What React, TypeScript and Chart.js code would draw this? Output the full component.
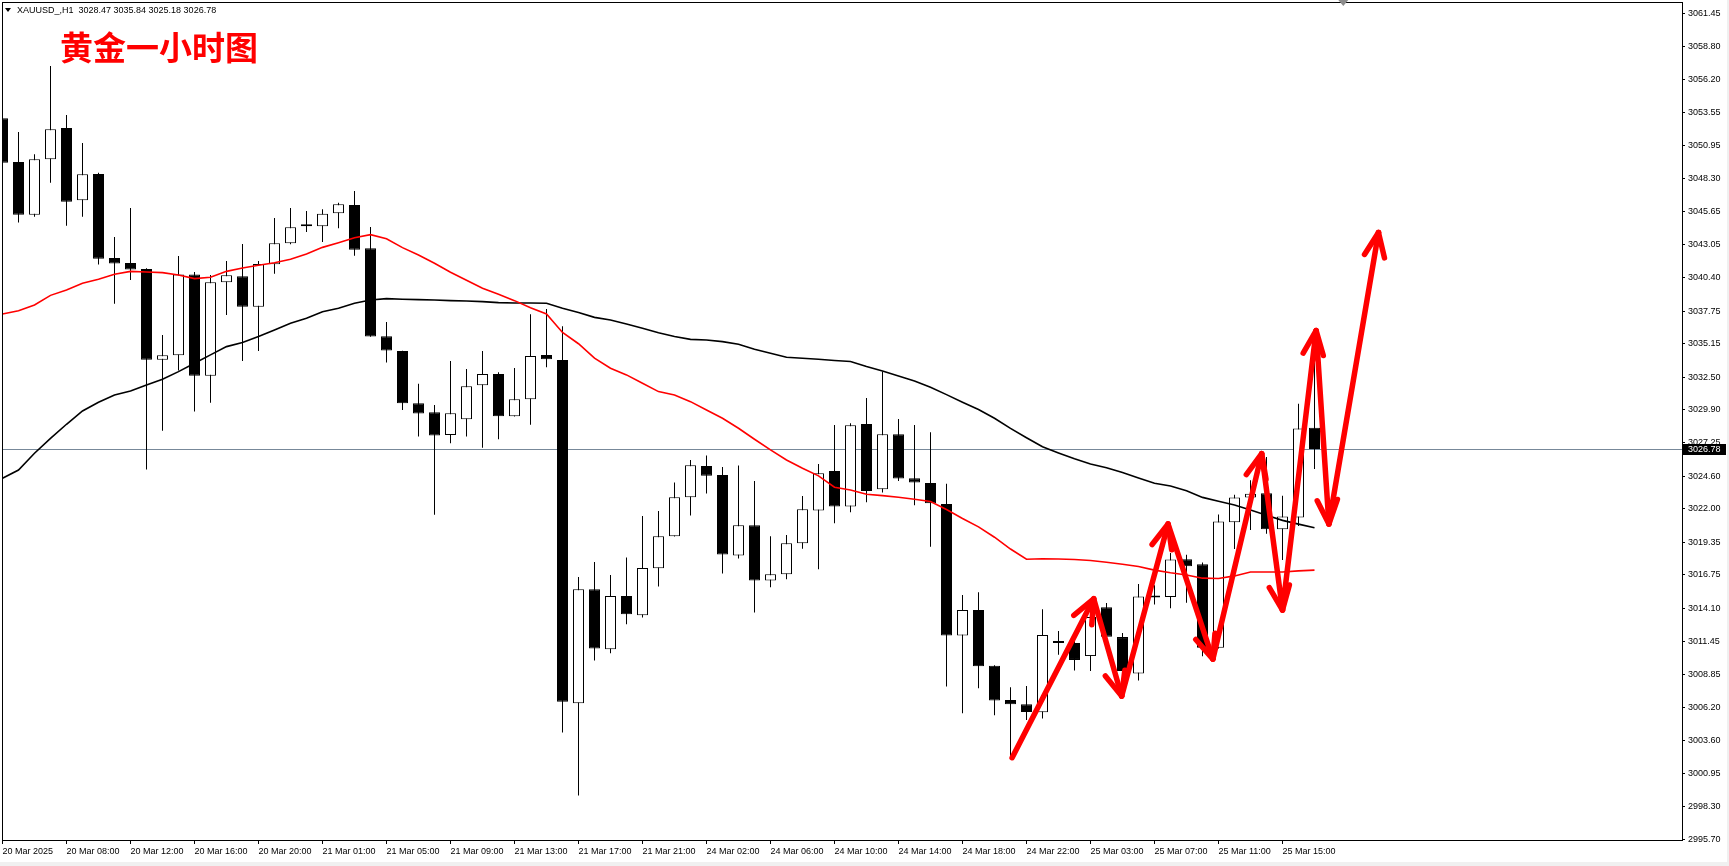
import React, { useEffect, useRef } from "react";
import { Chart, registerables } from "chart.js";

Chart.register(...registerables);

// ---------------- data ----------------
const SYMBOL = "XAUUSD_";
const TIMEFRAME = "H1";
const TITLE = "黄金一小时图";

const opens = [
  3053.09, 3049.62, 3045.42, 3049.83, 3052.32, 3046.57, 3048.66, 3041.98, 3041.58, 3041.10,
  3033.88, 3034.23, 3040.67, 3032.61, 3040.04, 3040.52, 3038.10, 3041.47, 3043.14, 3044.63,
  3044.50, 3045.53, 3046.19, 3042.75, 3035.74, 3034.58, 3030.41, 3029.69, 3027.89, 3029.14,
  3031.84, 3032.74, 3029.38, 3030.73, 3034.26, 3033.86, 3006.54, 3015.61, 3010.83, 3015.08,
  3013.54, 3017.28, 3019.83, 3022.93, 3025.42, 3024.71, 3018.29, 3020.70, 3016.30, 3016.80,
  3019.27, 3021.87, 3025.03, 3022.19, 3028.77, 3023.57, 3027.94, 3024.44, 3024.07, 3022.40,
  3011.92, 3013.96, 3009.51, 3006.79, 3006.46, 3005.82, 3011.45, 3011.33, 3010.29, 3014.18,
  3011.80, 3008.91, 3015.05, 3015.00, 3017.99, 3017.59, 3010.95, 3020.94, 3022.92, 3023.25,
  3020.39, 3021.31, 3028.47,
];
const highs = [
  3056.00, 3052.00, 3050.23, 3057.26, 3053.36, 3051.13, 3048.75, 3043.65, 3045.95, 3041.15,
  3035.85, 3042.13, 3040.86, 3040.62, 3041.74, 3043.09, 3041.74, 3045.16, 3045.95, 3045.72,
  3045.85, 3046.38, 3047.31, 3044.44, 3036.88, 3034.60, 3031.97, 3030.28, 3033.78, 3033.14,
  3034.58, 3032.88, 3033.22, 3037.49, 3037.92, 3036.54, 3016.59, 3017.78, 3016.75, 3018.13,
  3021.44, 3021.84, 3024.10, 3025.90, 3026.25, 3025.34, 3025.45, 3024.23, 3019.83, 3019.93,
  3023.04, 3025.58, 3028.69, 3028.82, 3030.83, 3032.93, 3029.16, 3028.69, 3028.10, 3024.01,
  3015.16, 3015.37, 3009.55, 3007.81, 3007.91, 3014.02, 3012.28, 3011.60, 3014.20, 3014.52,
  3012.13, 3016.03, 3015.92, 3018.50, 3018.35, 3017.74, 3021.55, 3023.13, 3024.29, 3026.14,
  3023.05, 3030.37, 3035.84,
];
const lows = [
  3049.24, 3044.79, 3045.26, 3047.97, 3044.55, 3045.26, 3041.45, 3038.34, 3040.23, 3025.13,
  3028.23, 3033.01, 3029.75, 3030.46, 3037.44, 3033.78, 3034.58, 3040.73, 3043.06, 3044.05,
  3043.25, 3044.34, 3042.16, 3035.70, 3033.65, 3029.88, 3027.76, 3021.53, 3027.23, 3027.76,
  3026.88, 3027.55, 3029.35, 3028.71, 3033.28, 3004.20, 2999.19, 3009.93, 3010.51, 3012.82,
  3013.35, 3015.82, 3019.80, 3021.47, 3023.22, 3016.86, 3018.05, 3013.75, 3015.77, 3016.40,
  3018.84, 3017.20, 3020.86, 3021.74, 3022.53, 3023.30, 3024.23, 3022.29, 3019.00, 3007.86,
  3005.74, 3007.73, 3005.58, 3002.20, 3005.20, 3005.32, 3010.40, 3009.15, 3009.10, 3011.30,
  3008.80, 3008.35, 3014.40, 3014.09, 3014.54, 3010.28, 3010.90, 3018.81, 3020.33, 3020.03,
  3017.94, 3020.64, 3025.18,
];
const closes = [
  3049.56, 3045.42, 3049.83, 3052.22, 3046.46, 3048.63, 3041.92, 3041.53, 3041.05, 3033.88,
  3034.23, 3040.67, 3032.61, 3040.04, 3040.60, 3038.10, 3041.50, 3043.14, 3044.42, 3044.50,
  3045.50, 3046.25, 3042.64, 3035.72, 3034.61, 3030.41, 3029.59, 3027.84, 3029.61, 3031.76,
  3032.74, 3029.38, 3030.73, 3034.18, 3033.91, 3006.65, 3015.61, 3010.89, 3015.08, 3013.62,
  3017.30, 3019.83, 3022.93, 3025.48, 3024.65, 3018.37, 3020.70, 3016.30, 3016.80, 3019.27,
  3021.98, 3024.84, 3022.19, 3028.66, 3023.43, 3027.94, 3024.42, 3024.10, 3022.45, 3011.92,
  3013.96, 3009.48, 3006.76, 3006.45, 3005.83, 3011.96, 3011.33, 3009.98, 3013.40, 3011.82,
  3009.10, 3015.04, 3014.95, 3017.98, 3017.44, 3010.95, 3021.00, 3022.92, 3023.20, 3020.39,
  3021.40, 3028.41, 3026.78,
];

const maRed = [
  3037.52, 3037.78, 3038.24, 3039.00, 3039.43, 3039.96, 3040.28, 3040.68, 3040.91, 3040.86,
  3040.81, 3040.62, 3040.33, 3040.44, 3040.91, 3041.18, 3041.39, 3041.60, 3041.87, 3042.29,
  3042.82, 3043.19, 3043.59, 3043.83, 3043.51, 3042.80, 3042.21, 3041.55, 3040.84, 3040.20,
  3039.56, 3039.08, 3038.58, 3038.02, 3037.52, 3036.05, 3035.15, 3034.00, 3033.20, 3032.67,
  3032.00, 3031.34, 3031.07, 3030.54, 3029.88, 3029.22, 3028.42, 3027.55, 3026.70, 3025.90,
  3025.24, 3024.63, 3023.73, 3023.51, 3023.17, 3023.06, 3022.93, 3022.77, 3022.59, 3021.95,
  3021.24, 3020.57, 3019.75, 3018.81, 3018.00, 3018.03, 3018.01, 3017.98, 3017.90, 3017.76,
  3017.60, 3017.42, 3017.13, 3016.92, 3016.74, 3016.49, 3016.46, 3016.67, 3016.98, 3016.98,
  3016.98, 3017.07, 3017.13,
];
const maBlack = [
  3024.44, 3025.10, 3026.43, 3027.62, 3028.74, 3029.80, 3030.49, 3031.07, 3031.39, 3031.87,
  3032.32, 3032.93, 3033.59, 3034.26, 3034.92, 3035.24, 3035.72, 3036.25, 3036.78, 3037.17,
  3037.70, 3037.97, 3038.37, 3038.63, 3038.74, 3038.69, 3038.66, 3038.63, 3038.58, 3038.55,
  3038.50, 3038.42, 3038.39, 3038.39, 3038.37, 3037.97, 3037.63, 3037.25, 3037.04, 3036.72,
  3036.38, 3036.03, 3035.72, 3035.50, 3035.45, 3035.32, 3035.11, 3034.71, 3034.39, 3034.07,
  3033.99, 3033.91, 3033.81, 3033.73, 3033.33, 3032.98, 3032.59, 3032.19, 3031.68, 3031.10,
  3030.50, 3029.92, 3029.22, 3028.41, 3027.67, 3026.95, 3026.46, 3025.99, 3025.57, 3025.28,
  3024.90, 3024.46, 3024.05, 3023.83, 3023.44, 3022.92, 3022.61, 3022.31, 3021.91, 3021.49,
  3021.09, 3020.79, 3020.51,
];

// hand-drawn zig-zag arrow (bar index, price)
const arrowBars = [63.1, 68.2, 69.95, 72.85, 75.65, 78.7, 80.0, 82.1, 82.9, 86.0];
const arrowPrices = [3002.2, 3014.85, 3007.1, 3020.8, 3010.05, 3026.4, 3013.95, 3036.2, 3020.8, 3044.0];

const xTickBars = [0, 4, 8, 12, 16, 20, 24, 28, 32, 36, 40, 44, 48, 52, 56, 60, 64, 68, 72, 76, 80];
const xTickLabels = [
  "20 Mar 2025", "20 Mar 08:00", "20 Mar 12:00", "20 Mar 16:00", "20 Mar 20:00",
  "21 Mar 01:00", "21 Mar 05:00", "21 Mar 09:00", "21 Mar 13:00", "21 Mar 17:00",
  "21 Mar 21:00", "24 Mar 02:00", "24 Mar 06:00", "24 Mar 10:00", "24 Mar 14:00",
  "24 Mar 18:00", "24 Mar 22:00", "25 Mar 03:00", "25 Mar 07:00", "25 Mar 11:00",
  "25 Mar 15:00",
];
const yTicks = [
  3061.45, 3058.80, 3056.20, 3053.55, 3050.95, 3048.30, 3045.65, 3043.05, 3040.40, 3037.75,
  3035.15, 3032.50, 3029.90, 3027.25, 3024.60, 3022.00, 3019.35, 3016.75, 3014.10, 3011.45,
  3008.85, 3006.20, 3003.60, 3000.95, 2998.30, 2995.70,
];

const X_MIN = -1 / 32;
const X_MAX = 105 - 1 / 32;
const Y_MAX = 3062.35;
const Y_MIN = 2995.57;
const CHART_SHIFT_BAR = 83.8;

const W = 1729;
const H = 866;
const AXIS_FONT = { family: "'Liberation Sans', Arial, sans-serif", size: 9 };

export default function App() {
  const ref = useRef<HTMLCanvasElement | null>(null);

  useEffect(() => {
    const canvas = ref.current;
    if (!canvas) return;
    const idx = opens.map((_, i) => i);
    const last = opens.length - 1;
    const bid = closes[last];

    const decor = {
      id: "mt4decor",
      beforeDraw(chart: any) {
        const c = chart.ctx;
        c.save();
        c.fillStyle = "#f0f0f0";
        c.fillRect(0, 0, W, H);
        c.fillStyle = "#ffffff";
        c.fillRect(0, 0, 1727, 862);
        c.restore();
      },
      beforeDatasetsDraw(chart: any) {
        const c = chart.ctx;
        const a = chart.chartArea;
        const y = Math.round(chart.scales.y.getPixelForValue(bid)) + 0.5;
        c.save();
        c.strokeStyle = "#778899";
        c.lineWidth = 1;
        c.beginPath();
        c.moveTo(a.left, y);
        c.lineTo(a.right, y);
        c.stroke();
        c.restore();
      },
      afterDatasetsDraw(chart: any) {
        const c = chart.ctx;
        const a = chart.chartArea;
        const pts = chart.getDatasetMeta(0).data;
        c.save();
        c.beginPath();
        c.rect(a.left, a.top, a.right - a.left, a.bottom - a.top);
        c.clip();
        c.strokeStyle = "#ff0000";
        c.lineWidth = 5.5;
        c.lineCap = "round";
        c.lineJoin = "round";
        const len = 26;
        const spread = 0.4;
        for (let i = 1; i < pts.length; i++) {
          const p0 = pts[i - 1];
          const p1 = pts[i];
          const ang = Math.atan2(p0.y - p1.y, p0.x - p1.x);
          for (const s of [-1, 1]) {
            const w = ang + s * spread;
            c.beginPath();
            c.moveTo(p1.x, p1.y);
            c.lineTo(p1.x + len * Math.cos(w), p1.y + len * Math.sin(w));
            c.stroke();
          }
        }
        c.restore();
      },
      afterDraw(chart: any) {
        const c = chart.ctx;
        const a = chart.chartArea;
        c.save();
        // frame
        c.strokeStyle = "#000";
        c.lineWidth = 1;
        c.strokeRect(a.left + 0.5, a.top + 0.5, a.right - a.left, a.bottom - a.top - 1);
        // price box
        const y = Math.round(chart.scales.y.getPixelForValue(bid)) + 0.5;
        c.fillStyle = "#000";
        c.fillRect(a.right + 1, y - 5.5, 43, 11);
        c.fillStyle = "#fff";
        c.font = "9px 'Liberation Sans', Arial, sans-serif";
        c.textBaseline = "middle";
        c.textAlign = "left";
        c.fillText(bid.toFixed(2), a.right + 6, y);
        // chart shift marker
        const sx = chart.scales.x.getPixelForValue(CHART_SHIFT_BAR);
        c.fillStyle = "#8c8c8c";
        c.beginPath();
        c.moveTo(sx - 5, 0);
        c.lineTo(sx + 5, 0);
        c.lineTo(sx, 6);
        c.closePath();
        c.fill();
        c.restore();
      },
    };

    const chart = new Chart(canvas, {
      type: "bar",
      data: {
        datasets: [
          {
            type: "line",
            label: "arrow",
            data: arrowBars.map((x, k) => ({ x, y: arrowPrices[k] })),
            borderColor: "#ff0000",
            borderWidth: 5.5,
            borderCapStyle: "round",
            borderJoinStyle: "round",
            pointRadius: 0,
            tension: 0,
            order: 0,
          } as any,
          {
            type: "line",
            label: "MA red",
            data: idx.map((i) => ({ x: i, y: maRed[i] })),
            borderColor: "#ff0000",
            borderWidth: 1.6,
            pointRadius: 0,
            tension: 0,
            order: 1,
          } as any,
          {
            type: "line",
            label: "MA black",
            data: idx.map((i) => ({ x: i, y: maBlack[i] })),
            borderColor: "#000000",
            borderWidth: 1.6,
            pointRadius: 0,
            tension: 0,
            order: 2,
          } as any,
          {
            type: "bar",
            label: "body",
            data: idx.map((i) => ({ x: i, y: [opens[i], closes[i]] })),
            backgroundColor: idx.map((i) => (closes[i] >= opens[i] ? "#ffffff" : "#000000")),
            borderColor: "#000000",
            borderWidth: 1,
            borderSkipped: false,
            inflateAmount: 0,
            barThickness: 11,
            minBarLength: 2,
            grouped: false,
            order: 3,
          } as any,
          {
            type: "bar",
            label: "wick",
            data: idx.map((i) => ({ x: i, y: [lows[i], highs[i]] })),
            backgroundColor: "#000000",
            borderWidth: 0,
            inflateAmount: 0,
            barThickness: 1,
            grouped: false,
            order: 4,
          } as any,
        ],
      },
      options: {
        responsive: false,
        animation: false,
        devicePixelRatio: 1,
        events: [],
        layout: { padding: { left: 2, top: 2, right: 0, bottom: 0 } },
        plugins: { legend: { display: false }, tooltip: { enabled: false }, title: { display: false } },
        scales: {
          x: {
            type: "linear",
            min: X_MIN,
            max: X_MAX,
            offset: false,
            grid: { display: true, drawOnChartArea: false, drawTicks: true, tickLength: 3, color: "#000", offset: false },
            border: { display: false },
            ticks: {
              autoSkip: false,
              maxRotation: 0,
              minRotation: 0,
              align: "start",
              padding: 2,
              color: "#000",
              font: AXIS_FONT,
              callback: (_v: any, i: number) => xTickLabels[i],
            },
            afterBuildTicks: (s: any) => {
              s.ticks = xTickBars.map((v) => ({ value: v }));
            },
            afterFit: (s: any) => {
              s.height = 25;
              s.paddingLeft = 0;
              s.paddingRight = 0;
            },
          } as any,
          y: {
            type: "linear",
            position: "right",
            min: Y_MIN,
            max: Y_MAX,
            grid: { display: true, drawOnChartArea: false, drawTicks: true, tickLength: 3, color: "#000" },
            border: { display: false },
            ticks: {
              autoSkip: false,
              padding: 3,
              color: "#000",
              font: AXIS_FONT,
              callback: (v: any) => Number(v).toFixed(2),
            },
            afterBuildTicks: (s: any) => {
              s.ticks = yTicks.map((v) => ({ value: v }));
            },
            afterFit: (s: any) => {
              s.width = 47;
              s.paddingTop = 0;
              s.paddingBottom = 0;
            },
          } as any,
        },
      } as any,
      plugins: [decor as any],
    });
    return () => chart.destroy();
  }, []);

  const last = opens.length - 1;
  const header = `${SYMBOL},${TIMEFRAME}  ${opens[last].toFixed(2)} ${highs[last].toFixed(2)} ${lows[last].toFixed(2)} ${closes[last].toFixed(2)}`;

  return (
    <div style={{ position: "absolute", left: 0, top: 0, width: W, height: H, overflow: "hidden", background: "#fff" }}>
      <canvas ref={ref} width={W} height={H} style={{ display: "block", width: W, height: H }} />
      <div
        style={{
          position: "absolute",
          left: 5,
          top: 3,
          height: 14,
          display: "flex",
          alignItems: "center",
          font: "9px 'Liberation Sans', Arial, sans-serif",
          color: "#000",
          whiteSpace: "pre",
        }}
      >
        <span
          style={{
            display: "inline-block",
            width: 0,
            height: 0,
            borderLeft: "3px solid transparent",
            borderRight: "3px solid transparent",
            borderTop: "4px solid #000",
            marginRight: 6,
          }}
        />
        <span>{header}</span>
      </div>
      <div
        style={{
          position: "absolute",
          left: 60,
          top: 30,
          font: "bold 33px 'Noto Sans CJK SC', sans-serif",
          lineHeight: "33px",
          color: "#ff0000",
          whiteSpace: "nowrap",
        }}
      >
        {TITLE}
      </div>
    </div>
  );
}
